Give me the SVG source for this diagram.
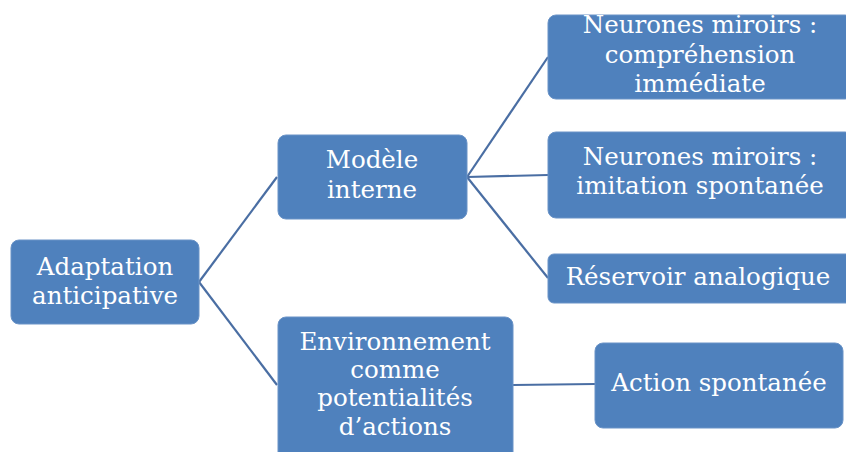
<svg xmlns="http://www.w3.org/2000/svg" width="846" height="452" viewBox="0 0 846 452">
<style>
.box{fill:#4F81BD;stroke:#6A93C7;stroke-width:1}
.t{font-family:"DejaVu Serif","Liberation Serif",serif;font-size:24.5px;fill:#ffffff;text-anchor:middle}
.c{stroke:#4A6EA3;stroke-width:2.2;fill:none}
</style>
<rect width="846" height="452" fill="#ffffff"/>
<g id="connectors">
<path class="c" d="M199,282 L277,177"/>
<path class="c" d="M199,282 L277,385"/>
<path class="c" d="M467,177 L548,57"/>
<path class="c" d="M467,177 L548,175"/>
<path class="c" d="M467,177 L548,278"/>
<path class="c" d="M513,385 L595,384"/>
</g>
<g id="adaptation">
<rect class="box" x="11" y="240" width="188" height="84" rx="8"/>
<text class="t" x="105" y="275">Adaptation</text>
<text class="t" x="105" y="304">anticipative</text>
</g>
<g id="modele">
<rect class="box" x="278" y="135" width="189" height="84" rx="8"/>
<text class="t" x="372" y="168">Modèle</text>
<text class="t" x="372" y="198">interne</text>
</g>
<g id="neurones-comprehension">
<rect class="box" x="548" y="15" width="305" height="84" rx="8"/>
<text class="t" x="700" y="33">Neurones miroirs :</text>
<text class="t" x="700" y="63">compréhension</text>
<text class="t" x="700" y="92">immédiate</text>
</g>
<g id="neurones-imitation">
<rect class="box" x="548" y="132" width="305" height="86" rx="8"/>
<text class="t" x="700" y="165">Neurones miroirs :</text>
<text class="t" x="700" y="194">imitation spontanée</text>
</g>
<g id="reservoir">
<rect class="box" x="548" y="254" width="305" height="49" rx="6"/>
<text class="t" x="698" y="285">Réservoir analogique</text>
</g>
<g id="environnement">
<rect class="box" x="278" y="317" width="235" height="145" rx="8"/>
<text class="t" x="395" y="350">Environnement</text>
<text class="t" x="395" y="378">comme</text>
<text class="t" x="395" y="406">potentialités</text>
<text class="t" x="395" y="435">d’actions</text>
</g>
<g id="action">
<rect class="box" x="595" y="343" width="248" height="85" rx="8"/>
<text class="t" x="719" y="391">Action spontanée</text>
</g>
</svg>
